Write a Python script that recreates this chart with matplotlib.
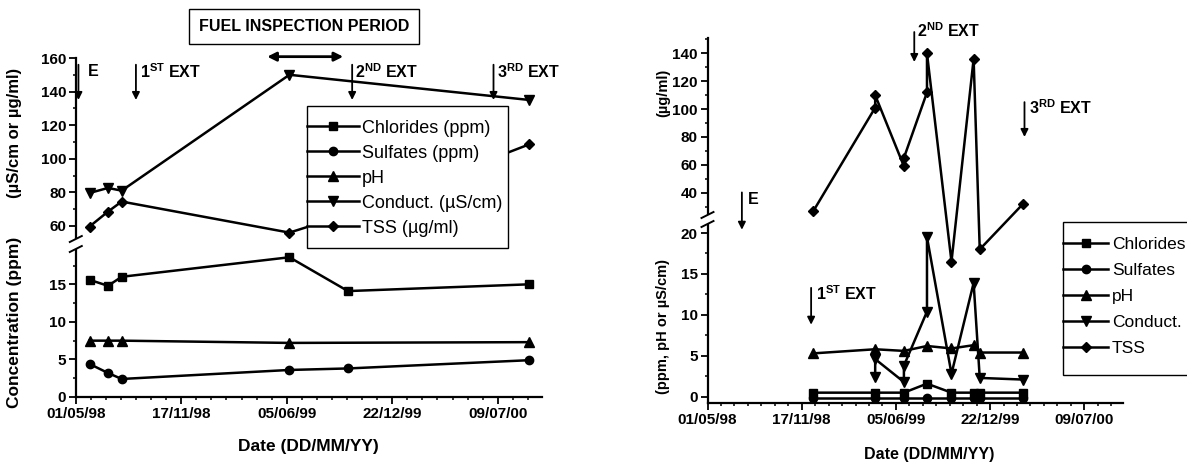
#!/usr/bin/env python3
# -*- coding: utf-8 -*-

import datetime as DT

import numpy as np
import matplotlib
matplotlib.use('Agg')
import matplotlib.pyplot as plt
import matplotlib.dates as mdates
from matplotlib.lines import Line2D
from matplotlib.patches import Rectangle
from matplotlib.ticker import FixedLocator


plt.rcParams['font.family'] = ['Liberation Sans', 'DejaVu Sans']
plt.rcParams['font.weight'] = 'bold'
plt.rcParams['mathtext.fontset'] = 'custom'
plt.rcParams['mathtext.rm'] = 'Liberation Sans:bold'
plt.rcParams['mathtext.bf'] = 'Liberation Sans:bold'
plt.rcParams['mathtext.it'] = 'Liberation Sans:bold'

W, H = 1187, 463


def d(s):
    return DT.datetime.strptime(s, '%d/%m/%Y')


# --- left chart (first sampling campaign) ---
left_dates = ['27/05/1998', '01/07/1998', '27/07/1998', '10/06/1999', '29/09/1999', '07/09/2000']
left_chlorides = [15.6, 14.8, 16.0, 18.6, 14.1, 15.0]
left_sulfates = [4.4, 3.2, 2.4, 3.6, 3.8, 4.9]
left_ph_dates = ['27/05/1998', '01/07/1998', '27/07/1998', '10/06/1999', '07/09/2000']
left_ph = [7.5, 7.5, 7.5, 7.2, 7.3]
left_conduct_dates = ['27/05/1998', '01/07/1998', '27/07/1998', '10/06/1999', '07/09/2000']
left_conduct = [79.6, 82.6, 81.0, 150.0, 135.0]
left_tss = [59.6, 68.5, 74.5, 56.0, 67.0, 108.6]

# --- right chart ---
right_dates = ['12/12/1998', '22/04/1999', '22/06/1999', '10/08/1999',
               '01/10/1999', '17/11/1999', '30/11/1999', '01/03/2000']
right_chlorides = [0.5, 0.5, 0.5, 1.6, 0.5, 0.5, 0.5, 0.5]
right_sulfates = [-0.1, -0.1, -0.1, -0.1, -0.1, -0.1, -0.1, -0.1]
right_ph = [5.3, 5.8, 5.6, 6.2, 5.9, 6.3, 5.4, 5.4]
right_conduct_dates = ['22/04/1999', '22/04/1999', '22/06/1999', '22/06/1999', '10/08/1999',
                       '10/08/1999', '01/10/1999', '17/11/1999', '30/11/1999', '01/03/2000']
right_conduct = [2.4, 4.6, 1.8, 3.8, 10.4, 19.5, 2.8, 13.9, 2.3, 2.1]
right_tss_dates = ['12/12/1998', '22/04/1999', '22/04/1999', '22/06/1999', '22/06/1999', '10/08/1999',
                   '10/08/1999', '01/10/1999', '17/11/1999', '30/11/1999', '01/03/2000']
right_tss = [27, 101, 110, 59, 65, 112, 140, 16.5, 136, 18.0, 32]

left_labels = ['Chlorides (ppm)', 'Sulfates (ppm)', 'pH', 'Conduct. (\u00b5S/cm)', 'TSS (\u00b5g/ml)']
right_labels = ['Chlorides', 'Sulfates', 'pH', 'Conduct.', 'TSS']
MARKERS = ['s', 'o', '^', 'v', 'D']
MSIZES = [6, 6, 6.5, 6.5, 5.5]

X_START = DT.datetime(1998, 5, 1)
X_END = X_START + DT.timedelta(days=883)
MAJOR_DATES = [X_START + DT.timedelta(days=200 * k) for k in range(5)]
MINOR_DATES = [X_START + DT.timedelta(days=200 / 7 * k) for k in range(31)]


def broken_scale(lo, lo_top, hi_bottom, hi, lo_px, hi_px, gap_px):
    """Piecewise linear y scale: [lo, lo_top] and [hi_bottom, hi] with a gap between them."""
    k1 = lo_px / (lo_top - lo)
    k2 = hi_px / (hi - hi_bottom)
    kg = gap_px / (hi_bottom - lo_top)
    y1 = lo_px
    y2 = lo_px + gap_px

    def forward(v):
        v = np.asarray(v, dtype=float)
        return np.where(v <= lo_top, (v - lo) * k1,
                        np.where(v < hi_bottom, y1 + (v - lo_top) * kg, y2 + (v - hi_bottom) * k2))

    def inverse(y):
        y = np.asarray(y, dtype=float)
        return np.where(y <= y1, lo + y / k1,
                        np.where(y < y2, lo_top + (y - y1) / kg, hi_bottom + (y - y2) / k2))

    return forward, inverse


def px_axes(fig, left, top, right, bottom):
    return fig.add_axes([left / W, 1 - bottom / H, (right - left) / W, (bottom - top) / H])


def style_axes(ax, majors, minors):
    ax.spines['top'].set_visible(False)
    ax.spines['right'].set_visible(False)
    ax.spines['left'].set_linewidth(1.6)
    ax.spines['bottom'].set_linewidth(1.6)
    ax.set_xlim(X_START, X_END)
    ax.tick_params(which='major', direction='out', length=5, width=1.3, labelsize=11, pad=2)
    ax.tick_params(which='minor', direction='out', length=2.5, width=1.1)
    ax.xaxis.set_major_locator(FixedLocator(mdates.date2num(MAJOR_DATES)))
    ax.xaxis.set_minor_locator(FixedLocator(mdates.date2num(MINOR_DATES)))
    ax.xaxis.set_major_formatter(mdates.DateFormatter('%d/%m/%y'))
    ax.yaxis.set_major_locator(FixedLocator(majors))
    ax.yaxis.set_minor_locator(FixedLocator(minors))
    ax.yaxis.set_major_formatter(lambda v, pos: f'{v:g}')


def plot_series(ax, series):
    lines = []
    for (xs, ys), m, ms in zip(series, MARKERS, MSIZES):
        line, = ax.plot([d(x) for x in xs], ys, color='black', lw=1.8, marker=m, ms=ms,
                        markeredgecolor='black', markerfacecolor='black')
        lines.append(line)
    return lines


def draw_break(fig, x, gap_top, gap_bottom):
    # blank the spine in the gap, then the two slashes
    fig.add_artist(Rectangle(((x - 9) / W, 1 - gap_bottom / H), 12 / W, (gap_bottom - gap_top) / H,
                             transform=fig.transFigure, facecolor='white', edgecolor='none', zorder=2))
    for yy in (gap_top, gap_bottom):
        fig.add_artist(Line2D([(x - 6) / W, (x + 6) / W], [1 - (yy + 3) / H, 1 - (yy - 3) / H],
                              color='black', lw=1.4, transform=fig.transFigure, zorder=3))


def ext_arrow(ax, x, y_top, y_bottom, text, text_x, text_y, size=11.5):
    ax.annotate('', xy=(d(x), y_bottom), xytext=(d(x), y_top), annotation_clip=False,
                arrowprops=dict(arrowstyle='-|>', lw=1.3, color='black', mutation_scale=11,
                                shrinkA=0, shrinkB=0))
    ax.text(d(text_x), text_y, text, ha='left', va='center', fontsize=size, clip_on=False)


def boxed_legend(fig, handles, labels, left, top, right, bottom, first_row_top, size, spacing,
                 handlelength, textpad):
    fig.add_artist(Rectangle((left / W, 1 - bottom / H), (right - left) / W, (bottom - top) / H,
                             transform=fig.transFigure, facecolor='white', edgecolor='black',
                             lw=1, zorder=4))
    leg = fig.legend(handles, labels, loc='upper left', bbox_to_anchor=(left / W, 1 - first_row_top / H),
                     borderaxespad=0, borderpad=0, frameon=False, prop={'weight': 'normal', 'size': size},
                     handlelength=handlelength, handletextpad=textpad, labelspacing=spacing)
    leg.set_zorder(5)
    return leg


fig = plt.figure(figsize=(W / 100, H / 100), dpi=100)

# ----- left chart: y 0..19.7 (397..249 px) and 52.2..160 (239..58 px) -----
left_series = [(left_dates, left_chlorides), (left_dates, left_sulfates),
               (left_ph_dates, left_ph), (left_conduct_dates, left_conduct),
               (left_dates, left_tss)]

ax_l = px_axes(fig, 75.8, 58, 541.5, 397)
ax_l.set_yscale('function', functions=broken_scale(0, 19.7, 52.2, 160, 148, 181, 10))
style_axes(ax_l, [0, 5, 10, 15, 60, 80, 100, 120, 140, 160],
           [2.5, 7.5, 12.5, 17.5, 70, 90, 110, 130, 150])
handles = plot_series(ax_l, left_series)
ax_l.set_ylim(0, 160)
draw_break(fig, 75.8, 239, 249)

ext_arrow(ax_l, '06/05/1998', 156, 135, 'E', '24/05/1998', 151.7)
ext_arrow(ax_l, '23/08/1998', 156, 135, r'1$^{\mathbf{ST}}$ EXT', '30/08/1998', 151.7)
ext_arrow(ax_l, '07/10/1999', 156, 135, r'2$^{\mathbf{ND}}$ EXT', '12/10/1999', 151.7)
ext_arrow(ax_l, '01/07/2000', 156, 135, r'3$^{\mathbf{RD}}$ EXT', '07/07/2000', 151.7)
ax_l.annotate('', xy=(d('20/09/1999'), 160.8), xytext=(d('29/04/1999'), 160.8), annotation_clip=False,
              arrowprops=dict(arrowstyle='<|-|>', lw=2, color='black', mutation_scale=13,
                              shrinkA=0, shrinkB=0))
fig.text(304 / W, 1 - 26.5 / H, 'FUEL INSPECTION PERIOD', ha='center', va='center', fontsize=11.5,
         bbox=dict(boxstyle='square,pad=0.6', fc='white', ec='black', lw=1))

fig.text(15 / W, 1 - 133 / H, '(\u00b5S/cm or \u00b5g/ml)', rotation=90, ha='center', va='center', fontsize=12)
fig.text(15 / W, 1 - 322 / H, 'Concentration (ppm)', rotation=90, ha='center', va='center', fontsize=12.5)
fig.text(308 / W, 1 - 447 / H, 'Date (DD/MM/YY)', ha='center', va='center', fontsize=12.5)

boxed_legend(fig, handles, left_labels, 307, 106, 508, 248, 119.8, 13, 0.44, 2.9, 0.13)

# ----- right chart: y -0.8..21.1 (403.3..224 px) and 24..150.8 (215..38.3 px) -----
right_series = [(right_dates, right_chlorides), (right_dates, right_sulfates),
                (right_dates, right_ph), (right_conduct_dates, right_conduct),
                (right_tss_dates, right_tss)]

ax_r = px_axes(fig, 707.5, 38.3, 1123.4, 403.3)
ax_r.set_yscale('function', functions=broken_scale(-0.8, 21.1, 24, 150.8, 179.3, 176.7, 9))
style_axes(ax_r, [0, 5, 10, 15, 20, 40, 60, 80, 100, 120, 140],
           [2.5, 7.5, 12.5, 17.5, 30, 50, 70, 90, 110, 130, 150])
handles_r = plot_series(ax_r, right_series)
ax_r.set_ylim(-0.8, 150.8)
draw_break(fig, 707.5, 215, 224)

ext_arrow(ax_r, '13/07/1998', 40.2, 20.4, 'E', '25/07/1998', 34.8)
ext_arrow(ax_r, '14/07/1999', 155.3, 133.8, r'2$^{\mathbf{ND}}$ EXT', '20/07/1999', 156)
ext_arrow(ax_r, '04/03/2000', 105, 80, r'3$^{\mathbf{RD}}$ EXT', '14/03/2000', 100.8)
ext_arrow(ax_r, '07/12/1998', 13.3, 8.8, r'1$^{\mathbf{ST}}$ EXT', '18/12/1998', 12.6)

fig.text(663 / W, 1 - 93 / H, '(\u00b5g/ml)', rotation=90, ha='center', va='center', fontsize=10.5)
fig.text(663 / W, 1 - 327 / H, '(ppm, pH or \u00b5S/cm)', rotation=90, ha='center', va='center', fontsize=10.5)
fig.text(929.5 / W, 1 - 455 / H, 'Date (DD/MM/YY)', ha='center', va='center', fontsize=11.5)

boxed_legend(fig, handles_r, right_labels, 1063.3, 221.7, 1195, 375, 236.8, 12.5, 0.62, 2.6, 0.19)

fig.savefig('out.png', dpi=100, facecolor='white')
